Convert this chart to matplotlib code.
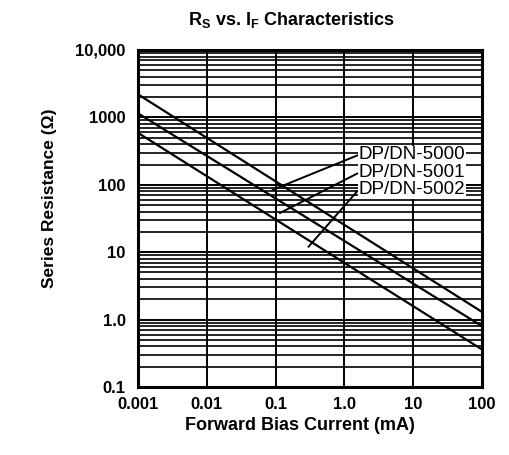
import numpy as np
import matplotlib
matplotlib.use("Agg")
import matplotlib.pyplot as plt
from matplotlib.ticker import FixedLocator, LogLocator, NullFormatter

plt.rcParams["font.family"] = ["Liberation Sans", "DejaVu Sans"]
plt.rcParams["mathtext.fontset"] = "custom"
plt.rcParams["mathtext.rm"] = "Liberation Sans"
plt.rcParams["mathtext.bf"] = "Liberation Sans:bold"

# ------------------------------------ data
current = [0.001, 100.0]                   # mA
res_5000 = [2200.0, 1.3]                   # ohm
res_5001 = [1150.0, 0.8]
res_5002 = [590.0, 0.36]

series = ["DP/DN-5000", "DP/DN-5001", "DP/DN-5002"]
label_pos = [(1.6, 277.0), (1.6, 150.0), (1.6, 84.0)]
leader_end = [(0.09, 84.0), (0.115, 38.0), (0.30, 12.0)]

xticks = [0.001, 0.01, 0.1, 1.0, 10.0, 100.0]
xlabels = ["0.001", "0.01", "0.1", "1.0", "10", "100"]
yticks = [0.1, 1.0, 10.0, 100.0, 1000.0, 10000.0]
ylabels = ["0.1", "1.0", "10", "100", "1000", "10,000"]

# ------------------------------------ figure
fig = plt.figure(figsize=(5.09, 4.55), dpi=100)
axi = fig.add_axes([138 / 509, 1 - 387 / 455, 344 / 509, 337 / 455])

axi.set_xscale("log")
axi.set_yscale("log")
axi.set_xlim(xticks[0], xticks[-1])
axi.set_ylim(yticks[0], yticks[-1])

axi.xaxis.set_major_locator(FixedLocator(xticks))
axi.xaxis.set_minor_locator(FixedLocator([]))
axi.yaxis.set_major_locator(FixedLocator(yticks))
axi.yaxis.set_minor_locator(LogLocator(base=10, subs=np.arange(2, 10)))
axi.yaxis.set_minor_formatter(NullFormatter())
axi.set_xticklabels(xlabels, fontsize=12, fontweight="bold")
axi.set_yticklabels(ylabels, fontsize=12, fontweight="bold")
axi.tick_params(which="both", length=0)
axi.tick_params(axis="x", pad=7)
axi.tick_params(axis="y", pad=9)

axi.grid(True, which="major", axis="both", color="k", linewidth=1.4)
axi.grid(True, which="minor", axis="y", color="k", linewidth=1.2)
axi.set_axisbelow(True)
for sp in axi.spines.values():
    sp.set_linewidth(2.2)

for yy in (res_5000, res_5001, res_5002):
    axi.plot(current, yy, color="k", linewidth=1.6, zorder=3)

for name, tpos, epos in zip(series, label_pos, leader_end):
    axi.annotate(
        name, xy=epos, xytext=tpos, ha="left", va="center",
        fontsize=13.5, zorder=5,
        bbox=dict(boxstyle="square,pad=0.05", fc="white", ec="none"),
        arrowprops=dict(arrowstyle="-", color="k", lw=1.4,
                        shrinkA=0, shrinkB=0, relpos=(0.0, 0.5)))

fig.text(291 / 509, 1 - 20 / 455,
         r"R$_\mathbf{S}$ vs. I$_\mathbf{F}$ Characteristics",
         ha="center", va="center", fontsize=13, fontweight="bold")
fig.text(300 / 509, 1 - 426 / 455, "Forward Bias Current (mA)",
         ha="center", va="center", fontsize=13, fontweight="bold")
fig.text(50 / 509, 1 - 198 / 455, "Series Resistance (\u03a9)",
         ha="center", va="center", rotation=90,
         fontsize=12.5, fontweight="bold")

fig.savefig("out.png", dpi=100)
